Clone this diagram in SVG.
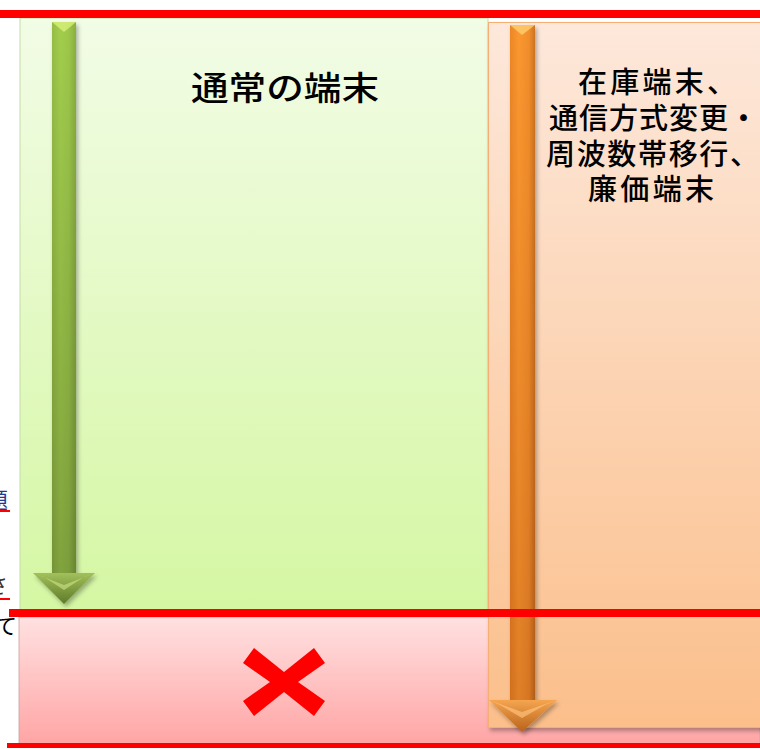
<svg xmlns="http://www.w3.org/2000/svg" width="760" height="749" viewBox="0 0 760 749">
<defs>
<linearGradient id="gGreen" x1="0" y1="0" x2="0" y2="1"><stop offset="0" stop-color="#f2fce6"/><stop offset="1" stop-color="#d5f7a3"/></linearGradient>
<linearGradient id="gPink" x1="0" y1="0" x2="0" y2="1"><stop offset="0" stop-color="#ffe1e1"/><stop offset="1" stop-color="#ffa5a5"/></linearGradient>
<linearGradient id="gOrange" x1="0" y1="0" x2="0" y2="1"><stop offset="0" stop-color="#fde8db"/><stop offset="1" stop-color="#fbbf8b"/></linearGradient>
<linearGradient id="gShaftG" x1="0" y1="0" x2="1" y2="0"><stop offset="0" stop-color="#7e9e3a"/><stop offset="0.35" stop-color="#9cc84a"/><stop offset="0.7" stop-color="#8fb845"/><stop offset="1" stop-color="#5f7a2a"/></linearGradient>
<linearGradient id="gShaftGv" x1="0" y1="0" x2="0" y2="1"><stop offset="0" stop-color="#a6d24e" stop-opacity="0.6"/><stop offset="1" stop-color="#6f8a35" stop-opacity="0.6"/></linearGradient>
<linearGradient id="gHeadG" x1="0" y1="0" x2="0" y2="1"><stop offset="0" stop-color="#a2c05a"/><stop offset="1" stop-color="#5e7a28"/></linearGradient>
<linearGradient id="gShaftO" x1="0" y1="0" x2="1" y2="0"><stop offset="0" stop-color="#d9731f"/><stop offset="0.35" stop-color="#f7952f"/><stop offset="0.75" stop-color="#e58228"/><stop offset="1" stop-color="#9a4e12"/></linearGradient>
<linearGradient id="gShaftOv" x1="0" y1="0" x2="0" y2="1"><stop offset="0" stop-color="#ff9a30" stop-opacity="0.5"/><stop offset="1" stop-color="#c86a1e" stop-opacity="0.5"/></linearGradient>
<linearGradient id="gHeadO" x1="0" y1="0" x2="0" y2="1"><stop offset="0" stop-color="#f5a550"/><stop offset="1" stop-color="#b8621a"/></linearGradient>
<filter id="sh" x="-10%" y="-10%" width="130%" height="130%"><feDropShadow dx="2" dy="3" stdDeviation="2" flood-color="#000" flood-opacity="0.3"/></filter>
</defs>
<style>
.redline{fill:#ff0000}
.label{font-family:"Noto Sans CJK JP","Noto Sans CJK SC",sans-serif;fill:#000;font-weight:500}
.frag{font-family:"Noto Sans CJK JP",sans-serif;font-size:22px}
</style>

<!-- partial text fragments at left edge -->
<g id="left-fragments">
<text class="frag" x="-14" y="508" fill="#1f3a8f">題</text>
<rect x="0" y="510" width="10" height="2" fill="#ff0000"/>
<text class="frag" x="-14" y="593" fill="#333">さ</text>
<rect x="0" y="598" width="10" height="2" fill="#ff0000"/>
<text class="frag" x="-5" y="634" fill="#000">て</text>
</g>

<g id="panel-normal">
<rect x="20" y="18" width="468" height="592" fill="url(#gGreen)" stroke="#c5dca8" stroke-width="1"/>
<text class="label" x="191" y="100" font-size="33" textLength="188" lengthAdjust="spacingAndGlyphs">通常の端末</text>
</g>

<g id="panel-ng">
<rect x="19" y="617" width="741" height="127" fill="url(#gPink)" stroke="#c9a0a0" stroke-width="0.8"/>
<path d="M243 663 L254 648 L284 672 L314 648 L325 663 L298 682 L325 701 L314 716 L284 692 L254 716 L243 701 L270 682 Z" fill="#ff0000"/>
</g>

<g id="panel-other" filter="url(#sh)">
<rect x="488.5" y="22.5" width="280" height="705" fill="url(#gOrange)" stroke="#f6ae74" stroke-width="1"/>
</g>
<g id="panel-other-label">
<text class="label" font-size="29" x="578" y="93" textLength="158" lengthAdjust="spacing">在庫端末、</text>
<text class="label" font-size="29" x="549" y="129" textLength="209" lengthAdjust="spacing">通信方式変更・</text>
<text class="label" font-size="29" x="546" y="165" textLength="213" lengthAdjust="spacing">周波数帯移行、</text>
<text class="label" font-size="29" x="588" y="200" textLength="126" lengthAdjust="spacing">廉価端末</text>
</g>

<g id="connectors">
<g id="arrow-green" filter="url(#sh)">
<rect x="52" y="22" width="24" height="554" fill="url(#gShaftG)"/>
<rect x="52" y="22" width="24" height="554" fill="url(#gShaftGv)"/>
<polygon points="52,22 76,22 64,32" fill="#d8f07a" opacity="0.8"/>
<polygon points="33,573 95,573 64,604" fill="url(#gHeadG)"/>
<polygon points="33,573 64,585 95,573 84,577 64,590 44,577" fill="#c4dc80" opacity="0.7"/>
</g>
<g id="arrow-orange" filter="url(#sh)">
<rect x="510" y="25" width="25" height="677" fill="url(#gShaftO)"/>
<rect x="510" y="25" width="25" height="677" fill="url(#gShaftOv)"/>
<polygon points="510,25 535,25 522,35" fill="#ffd070" opacity="0.8"/>
<polygon points="489,700 557,700 522,732" fill="url(#gHeadO)"/>
<polygon points="489,700 522,712 557,700 545,705 522,718 500,705" fill="#ffc07a" opacity="0.7"/>
</g>
</g>

<g id="lines">
<rect class="redline" x="0" y="10" width="760" height="8"/>
<rect class="redline" x="9" y="609" width="751" height="8"/>
<rect class="redline" x="7" y="743" width="753" height="5"/>
</g>
</svg>
